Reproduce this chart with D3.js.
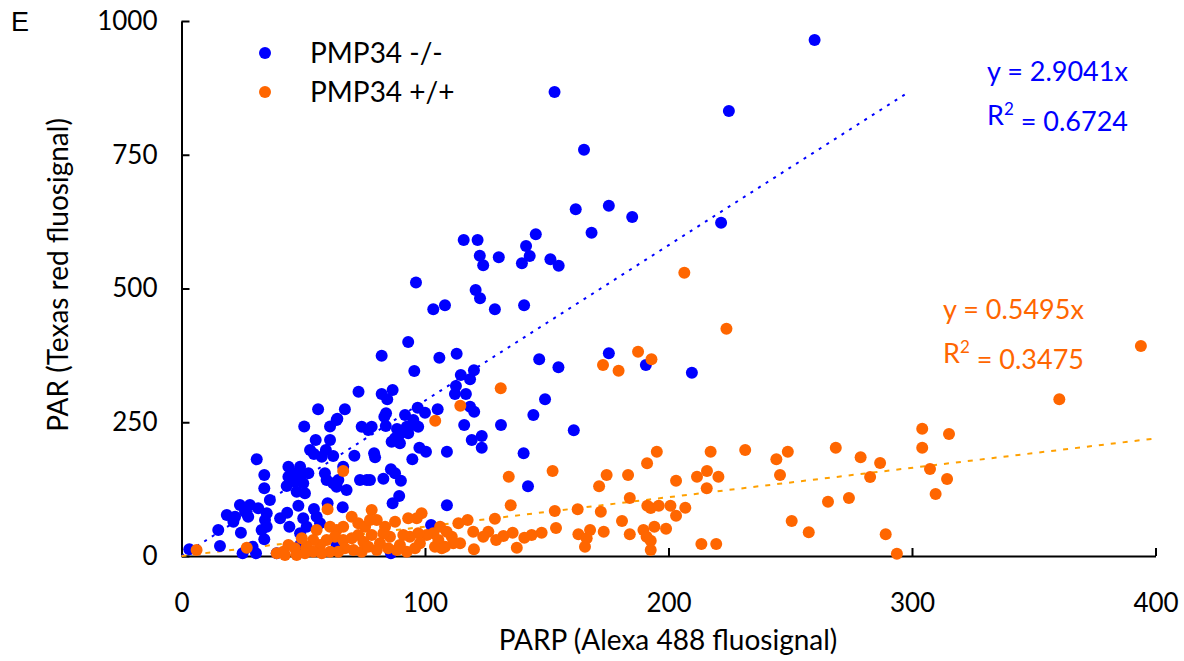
<!DOCTYPE html>
<html lang="en">
  <head>
    <script src="https://d3js.org/d3.v7.min.js"></script>
    <meta charset="UTF-8" />
    <title>PAR vs PARP</title>
    <style>
      body { margin: 0; background: #fff; }
    </style>
  </head>
  <body>
    <svg width="1184" height="661"></svg>
    <script>
      // PMP34 -/- : [PARP, PAR]
      var knockout = [
        [260.0,964.5],[153.2,867.3],[224.8,831.8],[165.3,759.4],[175.5,654.8],[161.9,648.0],[185.1,633.6],[168.4,604.3],[221.6,623.0],
        [115.9,590.7],[121.6,590.7],[122.5,561.3],[123.9,543.4],[130.3,558.3],[139.8,547.1],[141.5,579.4],[143.0,560.7],[145.5,601.3],
        [151.5,554.6],[154.9,542.6],[96.3,511.2],[120.8,497.2],[122.6,481.7],[103.4,461.1],[108.2,468.6],[128.7,461.1],[140.7,468.6],
        [93.1,400.0],[82.2,374.4],[105.9,370.7],[113.0,378.1],[146.9,367.7],[154.8,352.7],[95.6,345.8],[114.7,338.3],[118.5,330.3],
        [120.1,347.1],[112.7,317.8],[112.3,302.8],[116.8,302.8],[72.7,307.1],[82.2,302.8],[86.7,310.3],[84.5,292.9],[149.3,292.9],
        [118.5,279.1],[120.2,269.7],[97.0,277.2],[100.0,267.9],[105.2,274.2],[91.8,263.6],[84.0,266.7],[83.3,260.4],[116.1,244.9],
        [131.2,244.9],[144.5,263.6],[95.2,254.2],[97.2,241.7],[78.1,241.7],[56.1,274.2],[67.1,274.2],[64.0,256.6],[50.4,242.1],
        [61.0,242.1],[74.0,241.7],[76.7,235.5],[83.9,243.0],[88.5,237.4],[92.5,241.7],[95.9,244.9],[89.4,226.2],[93.1,229.3],
        [86.3,213.6],[87.7,220.0],[89.7,210.7],[97.7,202.4],[100.4,195.0],[109.0,195.0],[119.2,216.8],[123.3,224.3],[123.3,202.4],
        [140.5,192.0],[94.8,180.7],[79.1,192.0],[79.5,184.5],[86.0,162.1],[87.7,154.6],[90.1,140.7],[82.9,144.5],[77.4,142.1],
        [89.4,112.1],[86.7,98.5],[109.0,94.8],[142.3,130.3],[102.5,57.9],[86.0,5.0],[63.7,254.2],[55.1,216.8],[61.0,216.8],
        [52.8,198.1],[54.4,190.7],[59.3,198.1],[62.3,186.9],[57.6,185.6],[71.0,187.5],[66.4,166.9],[30.9,180.7],[34.0,151.4],
        [34.0,126.5],[36.3,104.7],[43.9,166.9],[48.7,166.9],[46.3,154.6],[43.9,148.2],[49.1,151.4],[52.1,154.6],[50.0,135.9],
        [46.6,138.9],[43.2,130.8],[50.7,117.2],[47.3,120.2],[58.9,154.6],[59.6,142.1],[62.3,135.9],[64.4,142.1],[63.7,129.5],
        [67.8,123.4],[73.3,142.1],[76.1,142.1],[24.0,95.3],[28.1,95.3],[26.1,82.8],[31.5,89.2],[35.0,79.8],[18.6,76.6],
        [22.0,73.5],[27.4,73.5],[21.3,64.1],[34.3,67.3],[32.9,48.6],[35.0,54.8],[24.4,43.6],[34.0,31.2],[15.1,48.6],
        [40.5,70.5],[43.4,80.9],[48.0,94.0],[54.4,87.9],[60.0,98.5],[66.2,91.0],[44.3,54.8],[50.0,70.5],[51.4,54.8],
        [48.7,42.4],[55.5,73.5],[56.9,61.1],[15.8,18.7],[3.2,12.5],[25.1,5.0],[30.6,5.0],[29.2,17.4],[39.1,5.0],
        [48.7,20.6],[63.7,20.6],[161.1,234.9],[175.5,378.9],[190.7,357.0],[209.6,342.6]
      ];

      // PMP34 +/+ : [PARP, PAR]
      var wildtype = [
        [206.5,529.5],[223.8,424.9],[394.0,392.5],[360.5,292.9],[131.1,313.5],[114.5,280.9],[104.2,252.9],[66.4,158.9],
        [187.5,381.9],[193.0,367.7],[173.1,357.0],[179.5,346.4],[304.2,237.9],[315.2,228.0],[304.2,202.4],[268.7,202.4],
        [278.9,184.5],[286.9,173.8],[282.8,147.7],[307.4,162.6],[314.4,143.9],[309.7,115.9],[265.5,101.5],[274.1,108.4],
        [257.6,44.3],[289.2,40.6],[293.8,4.3],[195.2,195.0],[191.2,173.3],[174.6,151.4],[183.4,151.4],[171.5,130.3],
        [217.3,195.0],[231.5,198.1],[249.0,195.0],[244.3,180.7],[245.8,151.4],[211.7,148.2],[215.8,158.9],[220.5,148.2],
        [203.1,140.7],[215.7,126.5],[184.1,108.4],[162.7,87.3],[172.2,82.8],[191.3,94.0],[192.7,89.7],[196.0,94.0],
        [200.8,94.0],[206.9,90.3],[203.1,75.3],[180.9,65.4],[163.0,40.6],[167.8,48.6],[166.4,33.1],[165.7,17.4],
        [173.4,45.4],[184.1,40.6],[189.7,48.6],[194.2,54.8],[191.0,36.1],[192.7,28.6],[192.7,11.2],[199.0,51.0],
        [213.5,22.4],[219.6,22.4],[250.6,65.4],[153.8,52.3],[153.3,84.1],[152.4,158.9],[134.4,148.2],[135.2,94.8],
        [128.7,69.7],[147.9,43.6],[143.8,39.3],[140.8,34.2],[137.7,15.5],[136.0,43.6],[132.2,37.4],[129.2,29.9],
        [126.0,45.4],[123.9,36.1],[120.1,12.5],[119.8,45.4],[117.5,67.3],[113.7,61.1],[114.4,23.7],[111.0,36.1],
        [108.9,45.4],[106.2,54.8],[105.5,29.9],[103.4,42.4],[104.1,17.4],[106.9,14.4],[98.6,79.8],[96.6,70.5],
        [93.1,70.5],[87.7,64.1],[83.6,54.8],[80.2,67.3],[78.1,86.0],[100.7,39.3],[97.2,42.4],[93.8,36.1],
        [91.1,39.3],[89.7,20.6],[92.5,8.0],[95.9,14.4],[97.9,23.7],[85.6,36.1],[82.9,42.4],[81.5,23.7],
        [80.2,11.2],[78.1,39.3],[88.4,11.2],[84.9,14.4],[111.6,23.7],[108.2,17.4],[6.2,11.2],[26.8,15.5],
        [60.0,87.3],[55.5,48.6],[61.0,54.8],[63.7,48.6],[66.4,54.8],[69.9,73.5],[72.6,61.1],[75.4,54.8],
        [77.4,67.3],[63.0,36.1],[59.6,29.9],[56.9,20.6],[54.1,29.9],[51.4,17.4],[49.4,33.1],[46.6,14.4],
        [43.9,20.6],[41.8,8.0],[39.1,5.0],[42.5,1.9],[66.4,29.9],[69.9,33.1],[72.6,39.3],[74.7,26.7],
        [70.6,11.2],[67.1,14.4],[64.4,8.0],[61.0,8.0],[57.6,5.0],[54.1,8.0],[50.7,5.0],[47.3,1.9],
        [74.0,8.0],[76.7,17.4]
      ];

      var seriesNames = ["PMP34 -/-", "PMP34 +/+"];
      var slopes = [2.9041, 0.5495];
      var rSquared = ["0.6724", "0.3475"];
      var trendEnd = [297, 400];
      var xTicks = [0, 100, 200, 300, 400];
      var yTicks = [0, 250, 500, 750, 1000];

      var svg = d3.select("svg");
      var font = "Lato, 'Open Sans', sans-serif";
      var dotColor = ["#0000ff", "#ff6600"];
      var lineColor = ["#0000ff", "#ffa000"];

      var x = d3.scaleLinear().domain([0, 400]).range([181.5, 1155.5]);
      var y = d3.scaleLinear().domain([0, 1000]).range([556, 21]);

      // axes, ticks pointing inward
      var xAxis = svg.append("g")
        .attr("transform", "translate(0,556)")
        .call(d3.axisBottom(x).tickValues(xTicks).tickSizeInner(-8).tickSizeOuter(0).tickPadding(38));
      var yAxis = svg.append("g")
        .attr("transform", "translate(181.5,0)")
        .call(d3.axisLeft(y).tickValues(yTicks).tickFormat(d3.format("d"))
          .tickSizeInner(-8).tickSizeOuter(0).tickPadding(24));

      [xAxis, yAxis].forEach(function (a) {
        a.select(".domain").attr("stroke", "#000").attr("stroke-width", 2);
        a.selectAll(".tick line").attr("stroke", "#000").attr("stroke-width", 2);
        a.selectAll("text").attr("font-family", font).attr("font-size", 26).attr("fill", "#000");
      });

      // trendlines (through origin)
      slopes.forEach(function (m, i) {
        svg.append("line")
          .attr("x1", x(0)).attr("y1", y(0))
          .attr("x2", x(trendEnd[i])).attr("y2", y(m * trendEnd[i]))
          .attr("stroke", lineColor[i])
          .attr("stroke-width", 2)
          .attr("stroke-dasharray", i == 0 ? "3,6" : "5,7");
      });

      // points
      [knockout, wildtype].forEach(function (data, i) {
        svg.append("g").selectAll("circle")
          .data(data)
          .enter()
          .append("circle")
          .attr("cx", function (d) { return x(d[0]); })
          .attr("cy", function (d) { return y(d[1]); })
          .attr("r", 6)
          .attr("fill", dotColor[i]);
      });

      // legend
      seriesNames.forEach(function (name, i) {
        svg.append("circle").attr("cx", 265).attr("cy", 53 + i * 39).attr("r", 6).attr("fill", dotColor[i]);
        svg.append("text").attr("x", 310).attr("y", 53 + i * 39).attr("dy", "0.35em")
          .attr("font-family", font).attr("font-size", 28).text(name);
      });

      // equation labels
      var eqPos = [[987, 72], [943, 310]];
      slopes.forEach(function (m, i) {
        var t = svg.append("g").attr("fill", dotColor[i]).attr("font-family", font).attr("font-size", 27);
        t.append("text").attr("x", eqPos[i][0]).attr("y", eqPos[i][1]).attr("dy", "0.35em")
          .text("y = " + m.toFixed(4) + "x");
        var r = t.append("text").attr("x", eqPos[i][0]).attr("y", eqPos[i][1] + 44).attr("dy", "0.35em");
        r.append("tspan").text("R");
        r.append("tspan").attr("dy", "-0.6em").attr("font-size", 17).text("2");
        r.append("tspan").attr("dy", "0.6em").text(" = " + rSquared[i]);
      });

      // axis titles
      svg.append("text")
        .attr("x", 668).attr("y", 640).attr("dy", "0.35em")
        .attr("text-anchor", "middle").attr("font-family", font).attr("font-size", 28)
        .text("PARP (Alexa 488 fluosignal)");
      svg.append("text")
        .attr("transform", "translate(58,275) rotate(-90)")
        .attr("dy", "0.35em")
        .attr("text-anchor", "middle").attr("font-family", font).attr("font-size", 28)
        .text("PAR (Texas red fluosignal)");

      // panel letter
      svg.append("text")
        .attr("x", 11).attr("y", 31)
        .style("font-family", "'Liberation Sans', Arial, sans-serif")
        .style("font-size", "27px")
        .text("E");
    </script>
  </body>
</html>
